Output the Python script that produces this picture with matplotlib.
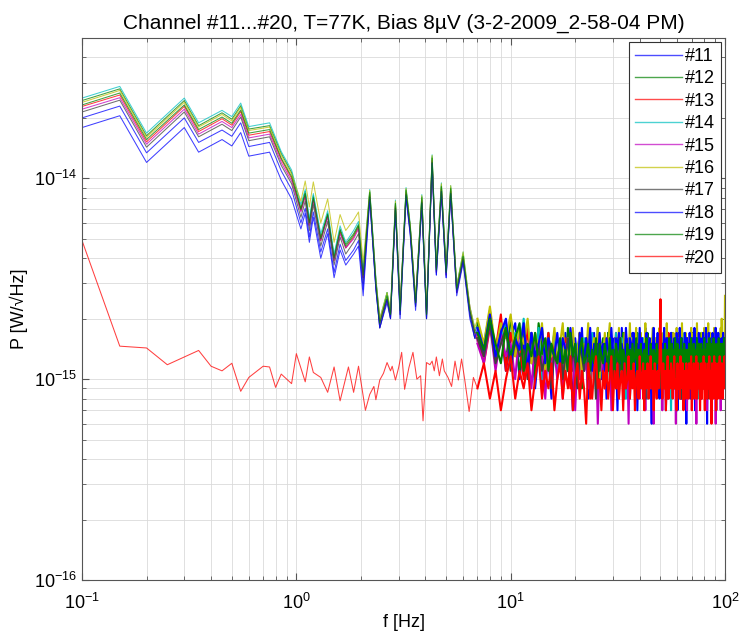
import matplotlib
matplotlib.use('Agg')
import matplotlib.pyplot as plt
from matplotlib.ticker import NullFormatter, LogLocator

plt.rcParams['font.family'] = ['Liberation Sans', 'DejaVu Sans']

# power spectral density in units of 1e-16 W/sqrt(Hz)
UNIT = 1e-16

channels = ['#11', '#12', '#13', '#14', '#15', '#16', '#17', '#18', '#19', '#20']
colors = ['#0000ff', '#008000', '#ff0000', '#00bfbf', '#bf00bf',
          '#bfbf00', '#404040', '#0000ff', '#008000', '#ff0000']

# vertices of channels #11..#19 below 7 Hz
f_low = [0.1, 0.15, 0.2, 0.3, 0.35, 0.45, 0.5, 0.55, 0.6, 0.75, 0.85, 0.95,
         1.05, 1.1, 1.15, 1.2, 1.3, 1.4, 1.5, 1.6, 1.7, 1.85, 1.95, 2.05,
         2.2, 2.35, 2.45, 2.65, 2.75, 2.9, 3.05, 3.25, 3.4, 3.6, 3.85, 4.05,
         4.3, 4.5, 4.75, 5.0, 5.25, 5.6, 6.0, 6.45, 6.8]

low = {
    '#11': [179, 205, 120, 179, 135, 156, 145, 169, 129, 135, 98, 79,
            56, 67, 48, 64, 40, 53, 32, 44, 37, 42, 46, 26,
            78, 28, 18, 24, 20, 69, 20, 80, 52, 22, 73, 20, 116, 33, 84, 32, 82, 26, 38, 20, 16],
    '#12': [244, 279, 163, 244, 183, 212, 197, 230, 176, 183, 133, 107,
            71, 86, 61, 82, 51, 67, 41, 56, 47, 53, 59, 34,
            86, 31, 19, 27, 21, 75, 22, 88, 57, 24, 81, 21, 128, 36, 92, 35, 90, 29, 42, 22, 17],
    '#13': [228, 260, 152, 228, 171, 198, 184, 215, 164, 171, 124, 100,
            69, 82, 59, 78, 49, 65, 39, 54, 45, 51, 57, 32,
            83, 31, 20, 25, 21, 73, 23, 85, 57, 25, 78, 22, 123, 36, 89, 35, 86, 29, 40, 23, 17],
    '#14': [251, 287, 168, 251, 189, 218, 203, 237, 181, 189, 136, 110,
            74, 88, 63, 84, 53, 69, 42, 58, 48, 55, 61, 35,
            88, 32, 20, 27, 22, 78, 23, 90, 59, 25, 83, 22, 131, 37, 95, 36, 92, 29, 43, 23, 18],
    '#15': [221, 252, 148, 221, 166, 192, 179, 208, 159, 166, 120, 97,
            68, 81, 58, 78, 49, 64, 39, 53, 45, 50, 56, 32,
            82, 29, 19, 25, 21, 73, 22, 84, 55, 24, 77, 21, 122, 34, 88, 33, 86, 27, 40, 22, 17],
    '#16': [239, 274, 160, 239, 180, 208, 193, 226, 173, 180, 130, 105,
            77, 97, 72, 96, 60, 79, 48, 66, 55, 62, 68, 38,
            87, 31, 20, 27, 22, 77, 23, 89, 58, 25, 82, 22, 130, 36, 94, 35, 92, 29, 43, 23, 18],
    '#17': [214, 245, 143, 214, 161, 186, 173, 202, 154, 161, 116, 94,
            64, 77, 55, 74, 46, 61, 37, 51, 42, 48, 53, 30,
            81, 29, 18, 25, 20, 71, 21, 83, 54, 23, 76, 20, 120, 34, 86, 33, 84, 27, 39, 21, 16],
    '#18': [200, 229, 134, 200, 151, 174, 162, 189, 144, 151, 109, 88,
            60, 71, 51, 68, 43, 56, 34, 47, 39, 44, 49, 28,
            80, 28, 18, 25, 20, 70, 21, 82, 53, 23, 75, 20, 119, 33, 86, 32, 84, 27, 39, 21, 16],
    '#19': [232, 266, 156, 232, 175, 202, 188, 219, 168, 175, 126, 102,
            70, 84, 60, 80, 50, 66, 40, 55, 46, 52, 58, 33,
            85, 30, 19, 26, 21, 75, 22, 87, 57, 24, 80, 21, 126, 35, 91, 34, 89, 28, 41, 22, 17],
}

# channel #20 has its own shape below 7 Hz
f_low20 = [0.1, 0.15, 0.2, 0.25, 0.35, 0.4, 0.45, 0.5, 0.55, 0.6,
           0.7, 0.75, 0.8, 0.85, 0.95, 1.0, 1.1, 1.15, 1.2, 1.3,
           1.4, 1.5, 1.6, 1.75, 1.85, 1.95, 2.1, 2.2, 2.3, 2.35,
           2.45, 2.55, 2.65, 2.75, 2.8, 2.9, 3.0, 3.1, 3.2, 3.35,
           3.5, 3.65, 3.8, 3.9, 4.05, 4.2, 4.3, 4.4, 4.5, 4.65,
           4.8, 4.9, 5.1, 5.3, 5.5, 5.7, 5.9, 6.1, 6.4, 6.7]
low['#20'] = [49, 14.6, 14.3, 11.8, 13.9, 11.6, 11.0, 12.0, 8.7, 10.2,
              11.6, 11.5, 9.1, 10.6, 9.5, 13.4, 9.7, 12.9, 10.8, 10.2,
              8.6, 11.5, 7.8, 11.5, 8.6, 11.6, 7.0, 8.4, 9.2, 7.9,
              9.9, 10.7, 12.1, 11.0, 11.6, 9.9, 11.4, 13.6, 8.9, 11.4,
              13.6, 10.0, 10.4, 6.2, 12.1, 11.8, 12.3, 11.0, 12.9, 10.4,
              12.6, 11.0, 10.2, 9.2, 12.3, 9.9, 12.6, 10.0, 6.9, 10.2]

# noise floor, 7..100 Hz
f_noise = """
7 7.5 8 8.5 9 9.5 10 10.5 11 11.5 12 12.5 13 13.5 14 14.5 15 15.5 16 16.5
17 17.5 18 18.5 19 19.5 20 20.5 21 21.5 22 22.5 23 23.5 24 24.5 25 25.5 26 26.5
27 27.5 28 28.5 29 29.5 30 30.5 31 31.5 32 32.5 33 33.5 34 34.5 35 35.5 36 36.5
37 37.5 38 38.5 39 39.5 40 40.5 41 41.5 42 42.5 43 43.5 44 44.5 45 45.5 46 46.5
47 47.5 48 48.5 49 49.5 50 50.5 51 51.5 52 52.5 53 53.5 54 54.5 55 55.5 56 56.5
57 57.5 58 58.5 59 59.5 60 60.5 61 61.5 62 62.5 63 63.5 64 64.5 65 65.5 66 66.5
67 67.5 68 68.5 69 69.5 70 70.5 71 71.5 72 72.5 73 73.5 74 74.5 75 75.5 76 76.5
77 77.5 78 78.5 79 79.5 80 80.5 81 81.5 82 82.5 83 83.5 84 84.5 85 85.5 86 86.5
87 87.5 88 88.5 89 89.5 90 90.5 91 91.5 92 92.5 93 93.5 94 94.5 95 95.5 96 96.5
97 97.5 98 98.5 99 99.5 100
"""

noise = {
    '#11': """
17 13 20 12 18 11 16 19 10 15 12 17 9 14 18 11 13 8 16 12
15 9 17 11 13 7 16 12 10 18 11 14 8 15 12 17 9 13 16 10
12 15 8 17 11 14 9 16 13 7 15 10 18 12 9 14 11 16 8 13
17 10 12 15 7 14 11 16 9 13 12 18 8 15 10 14 11 6 16 12
9 15 13 10 17 8 14 12 16 9 11 15 7 13 17 10 12 14 8 16
11 13 15 9 12 16 7 14 10 17 12 8 15 11 13 9 16 12 6 14
10 15 12 17 8 13 11 16 9 14 12 7 15 10 18 11 13 9 16 12
14 8 15 11 13 17 9 12 16 10 14 6 15 11 13 9 17 12 10 15
8 14 11 16 12 9 15 13 7 17 10 14 12 16 9 13 11 15 8 14
12 16 10 13 9 15 11""",
    '#12': """
19 14 21 13 17 12 20 15 11 18 13 16 10 19 14 12 17 11 15 13
12 16 10 18 14 11 15 13 17 9 14 12 16 10 15 13 11 18 12 14
16 11 13 17 10 15 12 14 9 16 13 11 15 17 10 14 12 8 16 13
11 15 13 10 17 12 14 9 16 11 13 15 12 17 10 14 13 9 15 12
14 10 16 12 13 9 17 11 15 12 14 10 16 13 8 15 12 14 11 17
12 14 9 16 13 11 15 10 17 12 14 13 9 16 11 15 12 10 14 13
16 11 13 15 9 14 12 17 10 13 15 11 14 8 16 12 13 10 15 12
13 17 10 14 12 15 9 16 11 14 13 10 17 12 15 11 13 9 16 14
11 15 12 16 10 13 14 9 17 12 15 11 13 16 10 14 12 15 9 13
16 12 14 10 15 12 13""",
    '#13': """
16 12 18 14 21 11 17 13 15 10 18 12 14 16 9 13 17 11 15 12
14 10 16 12 9 15 13 11 17 10 14 12 15 8 13 16 11 14 10 12
15 9 13 16 11 14 10 12 17 9 13 15 11 14 8 16 12 10 15 13
10 14 12 16 9 13 11 15 12 8 14 17 10 13 11 15 9 14 12 16
11 13 9 15 12 14 10 16 8 13 15 11 12 14 9 17 11 13 10 15
13 10 16 12 14 9 15 11 13 17 8 12 14 10 15 13 11 16 9 14
12 15 10 13 11 16 9 14 12 10 15 13 8 16 11 14 12 9 15 13
10 14 12 16 9 15 11 13 14 8 16 12 10 15 13 11 14 9 16 12
14 11 15 9 13 12 16 10 14 11 13 15 9 12 16 10 14 13 8 15
12 14 10 16 11 13 12""",
    '#14': """
18 15 22 13 16 19 12 17 14 20 11 16 13 18 10 15 12 14 17 11
13 16 10 14 12 17 9 15 13 11 16 12 14 10 17 13 11 15 9 14
12 16 10 13 15 9 14 12 17 11 13 10 16 12 14 8 15 13 11 16
13 10 15 12 14 9 17 11 13 16 10 12 15 8 14 13 11 16 12 10
15 12 9 14 13 17 10 12 15 11 14 9 16 12 13 10 15 14 7 13
16 11 14 12 10 15 13 9 16 12 14 11 13 17 10 12 15 9 14 13
11 15 13 10 16 12 14 9 15 11 13 16 10 14 12 8 15 13 11 16
12 14 10 15 13 11 17 9 14 12 15 10 13 16 11 14 9 15 12 13
15 10 14 12 16 11 13 9 15 12 14 10 17 11 13 15 10 14 12 11
14 12 16 10 13 15 12""",
    '#15': """
15 12 19 11 17 13 15 10 18 12 14 9 16 12 13 8 15 11 14 10
13 8 15 11 12 14 7 13 10 16 11 12 9 15 13 10 14 6 12 11
14 9 13 11 15 7 12 14 10 13 8 16 11 12 9 14 13 6 15 11
12 14 9 13 11 15 8 12 14 10 13 7 15 11 12 9 14 13 10 6
14 11 13 9 15 12 10 14 7 13 11 16 10 12 14 8 13 11 15 9
12 14 10 13 6 15 11 12 9 14 13 8 15 10 12 14 9 13 11 7
14 12 9 15 11 13 10 14 8 12 15 11 13 6 14 10 12 13 9 15
11 13 8 14 12 10 15 9 13 11 14 7 12 15 10 13 11 14 8 12
15 10 12 14 9 13 11 6 14 12 10 15 11 13 9 14 12 7 13 11
14 9 12 15 10 13 11""",
    '#16': """
20 15 23 14 19 16 21 13 18 15 20 12 17 14 19 11 16 13 18 12
15 19 11 16 13 18 12 14 17 10 15 13 19 11 14 16 12 18 10 15
13 17 11 15 19 12 14 10 16 13 18 11 15 12 17 10 14 13 19 11
16 12 14 18 10 15 13 17 11 14 12 19 10 15 13 16 11 14 18 12
13 16 10 15 12 18 11 14 13 17 10 15 12 19 11 14 13 16 10 15
12 17 11 14 13 18 10 15 12 16 11 14 19 12 13 15 10 17 12 14
11 16 13 15 10 18 12 14 11 17 13 10 15 12 19 11 14 13 16 10
15 12 17 11 14 13 18 10 15 12 16 11 14 19 12 13 10 17 12 15
13 11 16 12 18 10 14 13 15 11 17 12 14 10 16 13 12 18 11 20
14 12 16 11 15 13 26""",
    '#17': """
16 13 19 12 15 18 11 16 13 14 10 17 12 15 11 13 16 9 14 12
15 10 13 16 11 14 12 9 15 13 11 16 10 14 12 13 8 15 11 14
12 15 10 13 11 16 9 14 12 15 10 13 11 14 9 16 12 10 14 13
11 14 12 9 15 13 10 16 11 13 12 8 15 11 14 10 13 15 9 12
14 10 13 11 16 9 12 14 10 15 13 11 12 9 16 13 10 14 12 11
13 15 9 12 14 11 16 10 13 12 14 8 15 11 13 10 14 12 16 9
12 14 11 13 9 15 12 10 16 11 13 14 9 12 15 10 13 11 14 12
10 15 12 13 9 14 11 16 10 13 12 15 8 14 11 13 10 15 12 14
11 13 10 15 12 9 14 13 11 16 10 12 14 9 13 15 11 12 10 14
13 11 15 10 14 12 13""",
    '#18': """
18 14 21 13 17 20 12 16 14 19 11 17 13 15 18 12 16 14 13 17
12 16 14 11 18 13 15 10 17 14 12 16 13 18 11 15 14 12 17 13
15 11 16 14 12 18 13 10 16 14 17 12 15 13 11 18 14 12 16 15
13 17 11 15 14 12 18 13 16 10 15 14 17 12 13 16 11 15 14 18
12 15 13 17 10 14 16 12 15 13 18 11 14 16 12 15 13 10 17 14
15 12 16 14 11 17 13 15 12 18 14 10 16 13 15 12 17 14 11 16
13 15 12 17 14 10 16 13 15 12 18 14 11 16 13 15 12 17 9 14
16 13 15 11 17 14 12 16 13 18 10 15 14 12 17 13 16 11 15 14
12 17 14 15 11 16 13 18 12 14 15 10 17 13 16 12 14 15 11 16
14 12 17 13 15 11 16""",
    '#19': """
17 14 20 15 12 18 13 16 19 11 15 13 17 12 14 16 11 15 13 12
16 12 14 11 17 13 15 10 14 16 12 13 15 11 14 12 16 10 15 13
12 15 13 11 16 12 14 10 15 13 12 16 11 14 13 9 15 12 14 11
15 12 13 16 10 14 12 15 11 13 14 10 16 12 13 11 15 13 10 14
13 11 15 12 14 10 16 13 12 14 11 15 13 9 14 12 16 11 13 15
11 14 12 16 13 10 15 12 14 11 13 16 10 14 12 15 13 11 14 12
14 12 15 10 13 16 11 14 12 15 10 13 14 12 16 11 13 15 10 14
12 15 11 14 13 10 16 12 14 13 11 15 12 14 10 16 13 12 15 11
14 12 13 16 10 15 12 14 11 13 15 12 10 16 13 14 11 15 12 13
15 11 14 12 16 13 14""",
    '#20': """
9 12 8 11 7 10 13 8 11 9 12 7 10 13 8 11 9 12 7 10
12 8 11 9 13 7 10 12 8 11 9 6 12 10 8 11 13 9 10 7
11 9 12 8 10 13 7 11 9 12 8 10 11 7 12 9 10 13 8 11
9 12 7 10 11 8 13 9 10 12 7 11 9 12 8 10 13 9 11 7
12 10 8 11 9 13 25 10 8 12 9 11 7 10 13 8 11 9 12 10
8 11 13 9 10 7 12 9 11 8 13 10 9 12 7 11 10 8 12 9
11 8 12 10 9 13 7 11 10 12 8 9 11 13 8 10 12 9 11 7
10 12 8 11 9 13 10 7 12 9 11 8 10 12 9 13 8 11 10 6
12 9 11 8 13 10 9 12 7 11 10 8 12 9 11 13 8 10 12 9
11 8 12 10 9 13 10""",
}

fn = [float(v) for v in f_noise.split()]

fig = plt.figure(figsize=(7.41, 6.34), dpi=100)
ax = fig.add_axes([0.1107, 0.0852, 0.8677, 0.8549])

for name, col in zip(channels, colors):
    fl = f_low20 if name == '#20' else f_low
    lv = low[name]
    nv = [int(v) for v in noise[name].split()]
    # smooth part thin, noisy floor heavier so it packs like the original
    ax.plot(fl + fn[:1], [v * UNIT for v in lv + nv[:1]], color=col, lw=0.75,
            alpha=0.75, label=name)
    ax.plot(fn, [v * UNIT for v in nv], color=col, lw=1.5)

ax.set_xscale('log')
ax.set_yscale('log')
ax.set_xlim(0.1, 100)
ax.set_ylim(1e-16, 5e-14)
ax.set_xticks([0.1, 1, 10, 100])
ax.set_yticks([1e-16, 1e-15, 1e-14])
ax.yaxis.set_minor_locator(LogLocator(base=10, subs=range(2, 10), numticks=100))
ax.yaxis.set_minor_formatter(NullFormatter())
ax.xaxis.set_minor_formatter(NullFormatter())

ax.grid(True, which='both', color='#dadada', lw=0.6)
ax.set_axisbelow(True)
ax.tick_params(which='both', direction='in', top=True, right=True,
               colors='#555555', labelcolor='black')
ax.tick_params(which='major', length=5, labelsize=13)
ax.tick_params(axis='x', which='major', pad=9)
ax.tick_params(which='minor', length=3)
for sp in ax.spines.values():
    sp.set_color('#555555')
    sp.set_linewidth(0.8)

ax.set_xlabel('f [Hz]', fontsize=13, labelpad=1)
ax.set_ylabel('P [W/\u221aHz]', fontsize=13)
ax.set_title('Channel #11...#20, T=77K, Bias 8\u00b5V (3-2-2009_2-58-04 PM)',
             fontsize=15, pad=7)

leg = ax.legend(loc='upper right', fontsize=13, handlelength=2.6,
                handletextpad=0.15, labelspacing=0.3, borderpad=0.35,
                borderaxespad=0.2, fancybox=False, framealpha=1)
leg.get_frame().set_edgecolor('#333333')
leg.get_frame().set_linewidth(0.8)
for h in leg.get_lines():
    h.set_linewidth(1.0)
    h.set_alpha(0.7)

fig.savefig('out.png', dpi=100)
